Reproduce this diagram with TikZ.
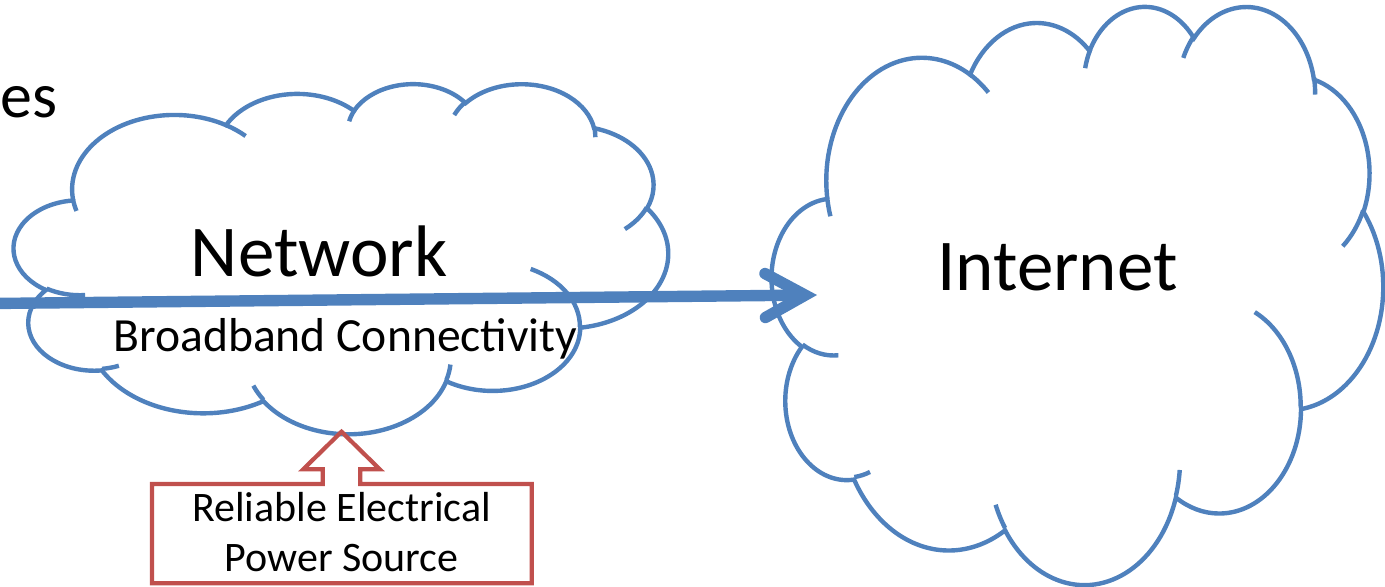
\documentclass[tikz,border=0pt]{standalone}
\usepackage{fontspec}
\setmainfont{Carlito}
\usetikzlibrary{arrows.meta}
\definecolor{cloudblue}{RGB}{79,129,189}
\definecolor{calloutred}{RGB}{192,80,77}

% OOXML-style arcTo: convert geometric angles to parametric ones
\newcommand\cloudarcangles[4]{%
  \pgfmathsetmacro\cas{atan2((#1)*sin(#3),(#2)*cos(#3))}%
  \pgfmathsetmacro\cae{atan2((#1)*sin((#3)+(#4)),(#2)*cos((#3)+(#4)))}%
  \pgfmathsetmacro\cad{(\cae)-(\cas)-(#4)}%
  \pgfmathsetmacro\cad{(#4)+(\cad)-360*round((\cad)/360)}%
  \global\let\cloudS\cas
  \global\let\cloudD\cad
}
\newcommand\CA[4]{\pgfextra{\cloudarcangles{#1}{#2}{#3}{#4}} arc[start angle=\cloudS, delta angle=\cloudD, x radius=#1, y radius=#2]}

\newcommand\drawcloud[5]{% #1 name, #2 x0, #3 y0, #4 w, #5 h (pixels)
  \pgfmathsetmacro\cwx{#4/43.2*0.5}%
  \pgfmathsetmacro\cwy{-#5/43.2*0.5}%
  \begin{scope}[shift={(#2,#3)}, x=\cwx pt, y=\cwy pt]
    \filldraw[cloudline, fill=white] (3.9,14.37)
      \CA{6.753}{9.19}{-190.4875}{123.7805}
      \CA{5.333}{7.267}{-144.1024}{89.9452}
      \CA{4.365}{5.945}{-145.8079}{99.7230}
      \CA{4.857}{6.595}{-130.9861}{117.2417}
      \CA{5.333}{7.273}{-78.7089}{109.0269}
      \CA{6.775}{9.22}{-46.2673}{130.2690}
      \CA{5.785}{7.867}{0.6250}{114.0333}
      \CA{6.752}{9.215}{22.4516}{115.1726}
      \CA{7.72}{10.543}{66.2426}{75.7110}
      \CA{4.36}{5.918}{-274.9421}{146.7356}
      \CA{4.345}{5.945}{-246.8285}{152.5189}
      -- cycle;
    \draw[cloudline]
      (4.693,26.177) \CA{4.345}{5.945}{86.7420}{26.4295}
      (6.928,34.899) \CA{4.36}{5.918}{73.6105}{11.4475}
      (16.478,39.09) \CA{6.752}{9.215}{137.6242}{14.0811}
      (28.827,34.751) \CA{6.752}{9.215}{6.4533}{15.9984}
      (34.129,22.954) \CA{5.785}{7.867}{-70.2924}{70.9174}
      (41.798,15.354) \CA{5.333}{7.273}{30.3180}{27.7515}
      (38.324,5.426) \CA{4.857}{6.595}{-13.7443}{14.8589}
      (29.078,3.952) \CA{4.857}{6.595}{-149.1815}{18.1954}
      (22.141,4.72) \CA{4.365}{5.945}{-163.4943}{17.6864}
      (14.0,5.192) \CA{6.753}{9.19}{-66.7070}{12.3194}
      (4.127,15.789) \CA{6.753}{9.19}{157.6544}{11.8582};
    \coordinate (#1) at (21.6,21.6);
  \end{scope}}

\begin{document}
\begin{tikzpicture}[x=0.5pt, y=-0.5pt,
  cloudline/.style={draw=cloudblue, line width=2.2pt},
  calloutline/.style={draw=calloutred, line width=2.1pt, line join=miter},
  flowarrow/.style={cloudblue, line width=5.7pt,
    -{Straight Barb[length=20pt, width=22pt, line cap=round, line join=miter]}},
  bigtext/.style={font=\fontsize{36.5}{44}\selectfont, inner sep=0pt, anchor=base},
  midtext/.style={font=\fontsize{23.8}{29}\selectfont, inner sep=0pt, anchor=base},
  smalltext/.style={font=\fontsize{21}{25}\selectfont, inner sep=0pt, anchor=base}]
\useasboundingbox (0,0) rectangle (1385,586);

% clouds
\drawcloud{networkcloud}{14}{83}{654}{350}
\drawcloud{internetcloud}{772}{5}{611}{578}

% texts
\node[font=\fontsize{32}{38}\selectfont, inner sep=0pt, anchor=base west] (es) at (0.5,117) {es};
\node[bigtext] (network) at (319,276) {Network};
\node[midtext] (broadband) at (345.5,351) {Broadband Connectivity};
\node[bigtext] (internet) at (1057.5,290) {Internet};

% callout
\draw[calloutline] (152,484) -- (322.8,484) -- (322.8,469.3) -- (303.2,469.3)
  -- (341.5,431.7) -- (379.8,469.3) -- (360.2,469.3) -- (360.2,484)
  -- (531.7,484) -- (531.7,583.3) -- (152,583.3) -- cycle;
\node[smalltext] (powerA) at (341.5,521.7) {Reliable Electrical};
\node[smalltext] (powerB) at (341.5,571.7) {Power Source};

% arrow
\coordinate (astart) at (-10,303.5);
\coordinate (atip) at (817,295);
\draw[flowarrow] (astart) -- (atip);
\end{tikzpicture}
\end{document}
